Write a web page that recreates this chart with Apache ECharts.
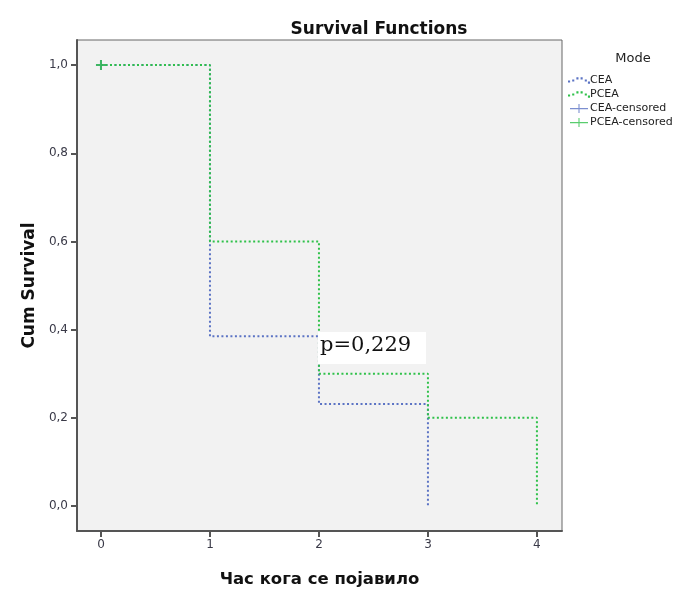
<!DOCTYPE html>
<html>
<head>
<meta charset="utf-8">
<script src="https://cdn.jsdelivr.net/npm/echarts@6/dist/echarts.min.js"></script>
<style>
  html, body { margin: 0; padding: 0; background: #fff; }
  #main { width: 688px; height: 594px; }
</style>
</head>
<body>
<div id="main"></div>
<script>
// survival steps: [time, cum survival]
var ceaSteps = [[0, 1.0], [1, 0.385], [2, 0.231], [3, 0.0]];
var pceaSteps = [[0, 1.0], [1, 0.6], [2, 0.3], [3, 0.2], [4, 0.0]];
var ceaCensored = [[0, 1.0]];
var pceaCensored = [[0, 1.0]];
var xTicks = [0, 1, 2, 3, 4];
var yTicks = [0, 0.2, 0.4, 0.6, 0.8, 1.0];
var pValueText = 'p=0,229';

var blue = '#5b73c4';
var green = '#2fc14a';
var font = 'DejaVu Sans';
var plus = 'path://M4,0h2v4h4v2h-4v4h-2v-4h-4v-2h4z';
// legend icons
var dotArc = 'path://M0,8h2v2h-2z M4,7h2v2h-2z M8,5h2v2h-2z M12,5h2v2h-2z M16,7h2v2h-2z M19,9h2v2h-2z';
var plusLine = 'path://M0,4.5h20v1.2h-20z M9.4,0h1.2v10h-1.2z';

var myChart = echarts.init(document.getElementById('main'));
myChart.setOption({
    animation: false,
    backgroundColor: '#fff',
    title: [{
        text: 'Survival Functions',
        left: 374,
        top: 16,
        textAlign: 'center',
        textStyle: { fontFamily: font, fontWeight: 'bold', fontSize: 17, color: '#111' }
    }, {
        text: 'Mode',
        left: 628,
        top: 47,
        textAlign: 'center',
        textStyle: { fontFamily: font, fontWeight: 'normal', fontSize: 13, color: '#222' }
    }],
    legend: {
        orient: 'vertical',
        left: 563,
        top: 70,
        itemWidth: 22,
        itemHeight: 9,
        itemGap: 3,
        textStyle: { fontFamily: font, fontSize: 11, color: '#222', padding: [0, 0, 0, -5] },
        data: [
            { name: 'CEA', icon: dotArc },
            { name: 'PCEA', icon: dotArc },
            { name: 'CEA-censored', icon: plusLine },
            { name: 'PCEA-censored', icon: plusLine }
        ]
    },
    grid: {
        left: 77,
        right: 126,
        top: 40,
        bottom: 63,
        outerBoundsMode: 'none',
        show: true,
        backgroundColor: '#f2f2f2',
        borderColor: '#666',
        borderWidth: 1
    },
    xAxis: {
        type: 'value',
        min: -0.22,
        max: 4.23,
        name: 'Час кога се појавило',
        nameLocation: 'middle',
        nameGap: 40,
        nameTextStyle: { fontFamily: font, fontWeight: 'bold', fontSize: 16.5, color: '#111' },
        axisLine: { show: true, onZero: false, lineStyle: { color: '#555', width: 2 } },
        axisTick: { show: true, length: 6, customValues: xTicks, lineStyle: { color: '#555', width: 2 } },
        axisLabel: { customValues: xTicks, margin: 8, fontFamily: font, fontSize: 12, color: '#3a3a48' },
        splitLine: { show: false }
    },
    yAxis: {
        type: 'value',
        min: -0.057,
        max: 1.057,
        name: 'Cum Survival',
        nameLocation: 'middle',
        nameGap: 39,
        nameTextStyle: { fontFamily: font, fontWeight: 'bold', fontSize: 17, color: '#111' },
        axisLine: { show: true, onZero: false, lineStyle: { color: '#555', width: 2 } },
        axisTick: { show: true, length: 6, customValues: yTicks, lineStyle: { color: '#555', width: 2 } },
        axisLabel: {
            customValues: yTicks,
            margin: 9,
            fontFamily: font,
            fontSize: 12,
            color: '#3a3a48',
            formatter: function (v) {
                return v.toFixed(1).replace('.', ',');
            }
        },
        splitLine: { show: false }
    },
    series: [{
        name: 'CEA',
        type: 'line',
        step: 'end',
        symbol: 'none',
        data: ceaSteps,
        itemStyle: { color: blue },
        lineStyle: { color: blue, width: 2, type: [2, 2.5] },
        z: 2
    }, {
        name: 'PCEA',
        type: 'line',
        step: 'end',
        symbol: 'none',
        data: pceaSteps,
        itemStyle: { color: green },
        lineStyle: { color: green, width: 2, type: [2, 2.5] },
        z: 3
    }, {
        name: 'CEA-censored',
        type: 'scatter',
        symbol: plus,
        symbolSize: 10,
        data: ceaCensored,
        itemStyle: { color: blue },
        z: 4
    }, {
        name: 'PCEA-censored',
        type: 'scatter',
        symbol: plus,
        symbolSize: 10,
        data: pceaCensored,
        itemStyle: { color: green },
        z: 5
    }],
    graphic: [{
        type: 'rect',
        left: 318,
        top: 332,
        shape: { width: 108, height: 32 },
        style: { fill: '#fff' },
        z: 100
    }, {
        type: 'text',
        left: 320,
        top: 335,
        style: {
            text: pValueText,
            fontFamily: 'DejaVu Serif',
            fontSize: 21,
            fill: '#111'
        },
        z: 101
    }]
});
window.onresize = myChart.resize;
</script>
</body>
</html>
